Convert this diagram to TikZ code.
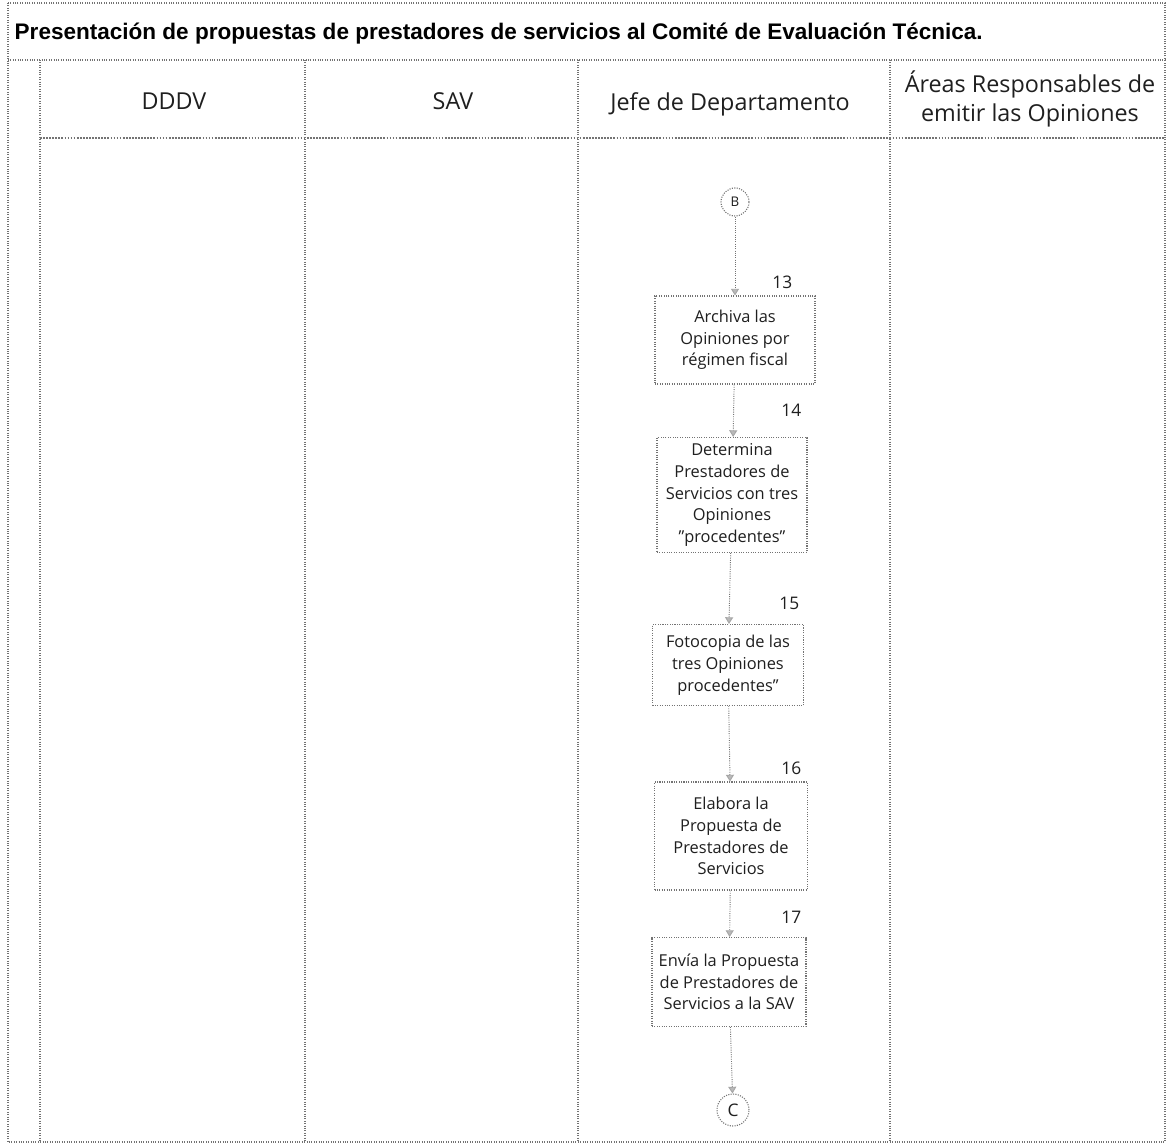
\documentclass[tikz,border=0pt]{standalone}
\usepackage{fontspec}
\setmainfont{Open Sans}
\newfontfamily\titlefont{Liberation Sans}
\usetikzlibrary{arrows.meta}
\definecolor{rule}{gray}{0.45}
\definecolor{ink}{gray}{0.12}
\tikzset{
  frame/.style={draw=rule, densely dotted, line width=0.8pt},
  lanehead/.style={font=\fontsize{17.5}{22}\selectfont, text=ink, align=center},
  stepbox/.style={draw=rule, densely dotted, line width=0.8pt, fill=white,
    align=center, inner sep=2pt, text=ink,
    font=\fontsize{12.3}{16.3}\selectfont},
  joint/.style={circle, draw=rule, densely dotted, line width=0.8pt, fill=white,
    inner sep=0pt, text=ink},
  num/.style={font=\fontsize{13}{15}\selectfont, text=ink, anchor=base east},
  flow/.style={draw=rule, densely dotted, line width=0.7pt,
    -{Triangle[width=6pt,length=5pt,fill=gray!55,color=gray!70]}}
}
\begin{document}
\begin{tikzpicture}[x=0.75pt,y=-0.75pt]
\useasboundingbox (0,0) rectangle (1167,1146);
\fill[white] (0,0) rectangle (1167,1146);

% outer frame, title band and lanes
\draw[frame] (8,3) rectangle (1165,1142);
\draw[frame] (8,60) -- (1165,60);
\draw[frame, line width=1.3pt] (40,138) -- (1165,138);
\foreach \x in {40,305,578,890}
  \draw[frame] (\x,60) -- (\x,1142);

\node[anchor=base west, font=\titlefont\bfseries\fontsize{16.9}{19}\selectfont]
  (title) at (10,39) {Presentación de propuestas de prestadores de servicios al Comité de Evaluación Técnica.};

\node[lanehead] (h1) at (174,101) {DDDV};
\node[lanehead] (h2) at (453,101) {SAV};
\node[lanehead] (h3) at (730,104) {Jefe de Departamento};
\node[lanehead] (h4) at (1030,99) {Áreas Responsables de\\emitir las Opiniones};

% process steps in the "Jefe de Departamento" lane
\node[joint, minimum size=28*0.75pt, font=\fontsize{10}{12}\selectfont] (B) at (735,202) {B};

\node[stepbox, minimum width=160*0.75pt, minimum height=88*0.75pt] (s13) at (735,340)
  {Archiva las\\Opiniones por\\régimen fiscal};
\node[stepbox, minimum width=150*0.75pt, minimum height=115*0.75pt] (s14) at (732,495)
  {Determina\\Prestadores de\\Servicios con tres\\Opiniones\\"procedentes"};
\node[stepbox, minimum width=151*0.75pt, minimum height=81*0.75pt] (s15) at (728,665)
  {Fotocopia de las\\tres Opiniones\\procedentes"};
\node[stepbox, minimum width=153*0.75pt, minimum height=108*0.75pt] (s16) at (731,836)
  {Elabora la\\Propuesta de\\Prestadores de\\Servicios};
\node[stepbox, minimum width=154*0.75pt, minimum height=89*0.75pt] (s17) at (729,982)
  {Envía la Propuesta\\de Prestadores de\\Servicios a la SAV};

\node[joint, minimum size=32*0.75pt, font=\fontsize{13}{15}\selectfont] (C) at (733,1110) {C};

% step numbers
\node[num] (n13) at (797,288) {13};
\node[num] (n14) at (806,416) {14};
\node[num] (n15) at (804,609) {15};
\node[num] (n16) at (806,774) {16};
\node[num] (n17) at (806,923) {17};

% flow connectors
\draw[flow] (B) -- (s13);
\draw[flow] (s13) -- (s14);
\draw[flow] (s14) -- (s15);
\draw[flow] (s15) -- (s16);
\draw[flow] (s16) -- (s17);
\draw[flow] (s17) -- (C);
\end{tikzpicture}
\end{document}
